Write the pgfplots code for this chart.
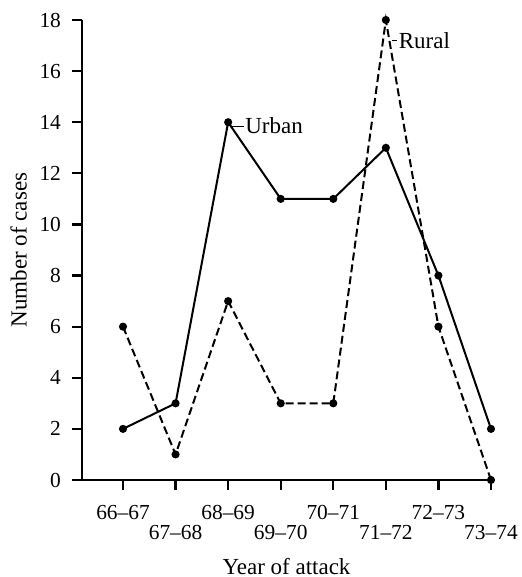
\documentclass[border=0pt]{standalone}
\usepackage{pgfplots}
\pgfplotsset{compat=1.18}
\usepackage{fontspec}
\setmainfont{Liberation Serif}
\begin{document}
\fontsize{11.5}{13.8}\selectfont
\begin{tikzpicture}
\path[use as bounding box] (-41pt,-48.5pt) rectangle (220pt,240pt);
\begin{axis}[
  scale only axis,
  width=204.5pt, height=230pt,
  xmin=-0.78, xmax=7, ymin=0, ymax=18,
  axis x line*=bottom, axis y line*=left,
  axis line style={line width=1.2pt},
  tick align=outside,
  major tick length=5pt,
  tick style={line width=1.1pt, black},
  ytick={0,2,...,18},
  xtick={0,2,4,6},
  xticklabels={66--67,68--69,70--71,72--73},
  extra x ticks={1,3,5,7},
  extra x tick labels={67--68,69--70,71--72,73--74},
  xticklabel style={yshift=-3.5pt},
  extra x tick style={tick label style={yshift=-10pt}},
  yticklabel style={xshift=-1.5pt},
  /pgf/number format/assume math mode=true,
  tick label style={font=\fontsize{10.7}{12.8}\selectfont},
  label style={font=\fontsize{11.5}{13.8}\selectfont},
  xlabel={Year of attack},
  ylabel={Number of cases},
  xlabel style={at={(axis description cs:0.5,-0.153)}, anchor=north},
  ylabel style={at={(axis description cs:-0.115,0.5)}, anchor=south},
  clip=false,
]
\addplot[black, line width=1pt, mark=*, mark size=1.5pt] coordinates {
  (0,2) (1,3) (2,14) (3,11) (4,11) (5,13) (6,8) (7,2)
};
\addplot[black, line width=1pt, dash pattern=on 4pt off 2pt, mark=*, mark size=1.5pt, mark options={solid}] coordinates {
  (0,6) (1,1) (2,7) (3,3) (4,3) (5,18) (6,6) (7,0)
};
\draw[line width=0.5pt] (axis cs:2.06,13.85) -- (axis cs:2.3,13.85);
\node[anchor=west, inner sep=0.5pt, font=\fontsize{11.5}{13.8}\selectfont] at (axis cs:2.3,13.85) {Urban};
\draw[line width=0.5pt] (axis cs:5.12,17.2) -- (axis cs:5.22,17.2);
\node[anchor=west, inner sep=0.5pt, font=\fontsize{11.5}{13.8}\selectfont] at (axis cs:5.22,17.2) {Rural};
\end{axis}
\end{tikzpicture}
\end{document}
